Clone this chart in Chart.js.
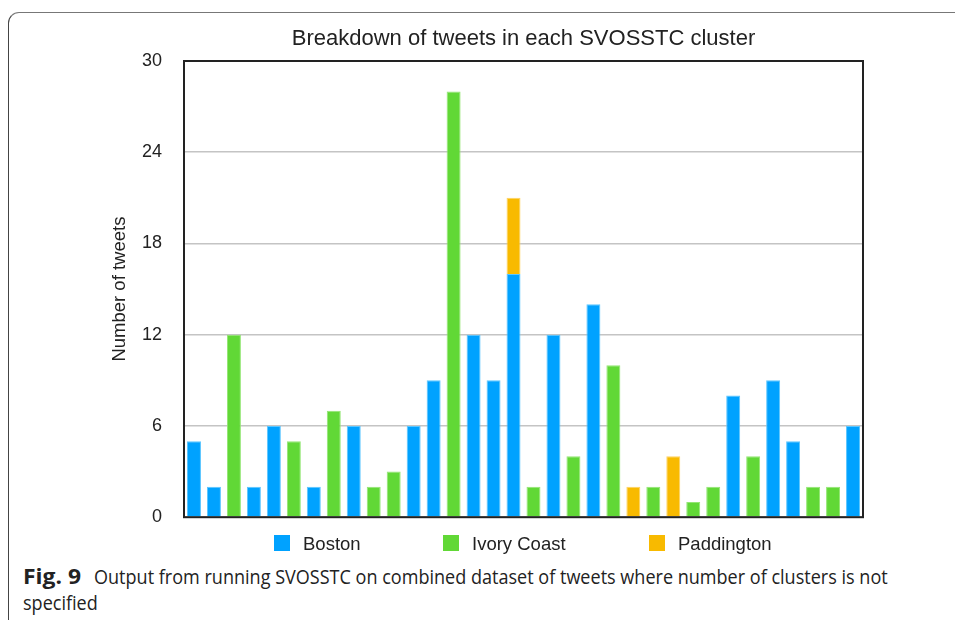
<!DOCTYPE html>
<html>
<head>
<meta charset="utf-8">
<script src="https://cdn.jsdelivr.net/npm/chart.js@4"></script>
<style>
  html, body { margin: 0; padding: 0; background: #fff; width: 955px; height: 620px; overflow: hidden; }
  #frame { position: absolute; left: 8px; top: 12px; width: 1000px; height: 700px;
           border-left: 1.5px solid #444; border-top: 1.5px solid #777; border-top-left-radius: 11px; }
  #wrap { position: absolute; left: 0; top: 0; width: 955px; height: 550px; }
  .leg { position: absolute; top: 533px; font: 18.5px "Liberation Sans", Arial, sans-serif; color: #222; }
  .leg span.box { position: absolute; top: 2px; width: 16px; height: 16px; }
  .cap { position: absolute; font: 20.5px "Open Sans", sans-serif; color: #222; white-space: nowrap; transform-origin: 0 0; }
</style>
</head>
<body>
<div id="frame"></div>
<div id="wrap"><canvas id="c" width="955" height="550"></canvas></div>
<div class="leg" style="left:274px"><span class="box" style="background:#00A2FF"></span><span style="position:absolute;left:29px;white-space:nowrap">Boston</span></div>
<div class="leg" style="left:443px"><span class="box" style="background:#61D836"></span><span style="position:absolute;left:29px;white-space:nowrap">Ivory Coast</span></div>
<div class="leg" style="left:649px"><span class="box" style="background:#F8BA00"></span><span style="position:absolute;left:29px;white-space:nowrap">Paddington</span></div>
<div class="cap" id="capA" style="top:562px;left:23px;font-weight:700">Fig. 9</div>
<div class="cap" id="capB" style="top:562px;left:94px">Output from running SVOSSTC on combined dataset of tweets where number of clusters is not</div>
<div class="cap" id="capC" style="top:588px;left:23px">specified</div>
<script>
const categories = ['1','2','3','4','5','6','7','8','9','10','11','12','13','14','15','16','17',
  '18','19','20','21','22','23','24','25','26','27','28','29','30','31','32','33','34'];
const boston =     [5,2,null,2,6,null,2,null,6,null,null,6,9,null,12,9,16,null,12,null,14,null,null,null,null,null,null,8,null,9,5,null,null,6];
const ivoryCoast = [null,null,12,null,null,5,null,7,null,2,3,null,null,28,null,null,null,2,null,4,null,10,null,2,null,1,2,null,4,null,null,2,2,null];
const paddington = [null,null,null,null,null,null,null,null,null,null,null,null,null,null,null,null,5,null,null,null,null,null,2,null,4,null,null,null,null,null,null,null,null,null];
const yTicks = [0,6,12,18,24,30];
const seriesNames = ['Boston','Ivory Coast','Paddington'];
const chartTitle = 'Breakdown of tweets in each SVOSSTC cluster';
const yTitle = 'Number of tweets';

// plot frame and a title centred over the plot area
const boxPlugin = {
  id: 'box',
  afterDraw(chart) {
    const {ctx, chartArea: a} = chart;
    ctx.save();
    ctx.strokeStyle = '#222';
    ctx.lineWidth = 2;
    ctx.strokeRect(a.left, a.top, a.right - a.left, a.bottom - a.top);
    ctx.fillStyle = '#222';
    ctx.font = '22px "Liberation Sans", Arial, sans-serif';
    ctx.textAlign = 'center';
    ctx.textBaseline = 'middle';
    ctx.fillText(chartTitle, (a.left + a.right) / 2, 39);
    ctx.restore();
  }
};

function ds(label, data, color, border) {
  return { label, data, backgroundColor: color, borderColor: border, borderWidth: 1,
           barPercentage: 0.7, categoryPercentage: 1.0 };
}

new Chart(document.getElementById('c'), {
  type: 'bar',
  data: {
    labels: categories,
    datasets: [
      ds(seriesNames[0], boston, '#00A2FF', '#5cc6ff'),
      ds(seriesNames[1], ivoryCoast, '#61D836', '#93e673'),
      ds(seriesNames[2], paddington, '#F8BA00', '#ffd260')
    ]
  },
  plugins: [boxPlugin],
  options: {
    responsive: false,
    animation: false,
    layout: { padding: { left: 100, right: 92, top: 61, bottom: 12 } },
    plugins: {
      legend: { display: false },
      tooltip: { enabled: false },
      title: { display: false }
    },
    scales: {
      x: { stacked: true, ticks: { display: false }, grid: { display: false, drawTicks: false },
           border: { display: false } },
      y: { stacked: true, min: 0, max: 30,
           afterBuildTicks: (axis) => { axis.ticks = yTicks.map(v => ({ value: v })); },
           afterFit: (axis) => { axis.width = 84; },
           ticks: { padding: 22, color: '#222', font: { family: '"Liberation Sans", Arial, sans-serif', size: 18 } },
           grid: { color: '#c4c4c4', lineWidth: 1.5, drawTicks: false },
           border: { display: false },
           title: { display: true, text: yTitle, color: '#222', padding: { top: 9, bottom: 0 },
                    font: { family: '"Liberation Sans", Arial, sans-serif', size: 18.5 } } }
    }
  }
});

// fit the condensed caption to the reference's line widths
const cA = document.getElementById('capA'), cB = document.getElementById('capB'), cC = document.getElementById('capC');
cA.style.transform = 'scaleX(' + (58 / cA.scrollWidth) + ')';
const s = 794 / cB.scrollWidth;
cB.style.transform = 'scaleX(' + s + ')';
cC.style.transform = 'scaleX(' + s + ')';
</script>
</body>
</html>
